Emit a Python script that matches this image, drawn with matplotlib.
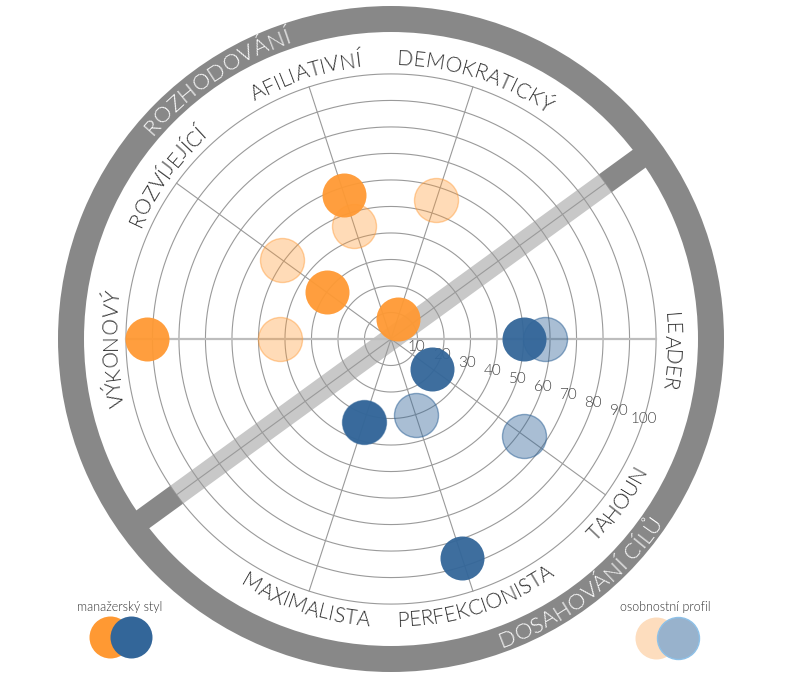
import numpy as np
import matplotlib
matplotlib.use('Agg')
import matplotlib.pyplot as plt
from matplotlib.font_manager import FontProperties, findfont, get_font

FAMILY = ['Lato', 'DejaVu Sans']
WEIGHT = 300

# --- data ---------------------------------------------------------------
categories = ['LEADER', 'DEMOKRATICKÝ', 'AFILIATIVNÍ', 'ROZVÍJEJÍCÍ',
              'VÝKONOVÝ', 'MAXIMALISTA', 'PERFEKCIONISTA', 'TAHOUN']
spoke_idx = [0, 2, 3, 4, 5, 7, 8, 9]          # 10 spokes, 1 and 6 = diagonal
skupina = ['cil', 'roz', 'roz', 'roz', 'roz', 'cil', 'cil', 'cil']
manazersky_styl = [50, 8, 57, 30, 92, 33, 87, 19]
osobnostni_profil = [58, 55, 45, 51, 42, 33, 30, 62]
ring_values = [10, 20, 30, 40, 50, 60, 70, 80, 90, 100]
skupiny = ['ROZHODOVÁNÍ', 'DOSAHOVÁNÍ CÍLŮ']

N_SPOKES = 10
RMAX = 126
ORANGE = '#FF9933'
BLUE = '#336699'
GRID = '#9a9a9a'
RING = '#888888'

fig = plt.figure(figsize=(8, 6.8), dpi=100)

# pixel geometry: center (391, 339), outer radius 334 px
ax = fig.add_axes([57 / 800, 7 / 680, 668 / 800, 668 / 680], projection='polar')
ax.set_ylim(0, RMAX)
ax.axis('off')
PX = 334 / RMAX   # pixels per unit


def deg(a):
    return np.deg2rad(a)


def advance_px(ch, fp):
    font = get_font(findfont(fp))
    font.set_size(fp.get_size_in_points(), 100)
    g = font.load_char(ord(ch))
    return g.linearHoriAdvance / 65536


def curved_text(s, theta_c, r, size, color, top_out=True, tracking=0.0):
    fp = FontProperties(family=FAMILY, weight=WEIGHT, size=size)
    widths = [advance_px(ch, fp) for ch in s]
    total = sum(widths) + tracking * (len(s) - 1)
    r_px = r * PX
    pos = -total / 2
    for ch, w in zip(s, widths):
        mid = pos + w / 2
        dth = np.rad2deg(mid / r_px)
        if top_out:
            th = theta_c - dth
            rot = th - 90
        else:
            th = theta_c + dth
            rot = th + 90
        ax.text(deg(th), r, ch, rotation=rot, rotation_mode='anchor',
                ha='center', va='baseline', fontproperties=fp, color=color,
                zorder=8)
        pos += w + tracking


# --- diagonal band (inner, light) ----------------------------------------
diag = deg(36)
band_w = 22 * 72 / 100
ax.plot([diag, diag + np.pi], [100, 100], color='#c8c8c8', lw=band_w,
        solid_capstyle='butt', zorder=1)

# --- grid ----------------------------------------------------------------
theta = np.linspace(0, 2 * np.pi, 721)
for v in ring_values:
    ax.plot(theta, np.full_like(theta, v), color=GRID, lw=0.8, zorder=2)
for k in range(N_SPOKES):
    a = deg(k * 360 / N_SPOKES)
    if k in (0, 5):
        ax.plot([a, a], [0, 100], color='#bdbdbd', lw=1.6, zorder=2)
    else:
        ax.plot([a, a], [0, 100], color=GRID, lw=0.8, zorder=2)

# radial value labels
fp_tick = FontProperties(family=FAMILY, weight=WEIGHT, size=11)
for v in ring_values:
    ax.text(deg(-17.5), v, str(v), ha='center', va='center',
            fontproperties=fp_tick, color='#444444', zorder=2.5)

# --- points --------------------------------------------------------------
ang = np.array([deg(i * 360 / N_SPOKES) for i in spoke_idx])
is_roz = np.array([g == 'roz' for g in skupina])
man = np.array(manazersky_styl)
oso = np.array(osobnostni_profil)
S = 1004

ax.scatter(ang[is_roz], oso[is_roz], s=S, facecolor=(1, 0.6, 0.2, 0.35),
           edgecolor=(1, 0.6, 0.2, 0.45), lw=1, zorder=3)
ax.scatter(ang[~is_roz], oso[~is_roz], s=S, facecolor=(0.2, 0.4, 0.6, 0.42),
           edgecolor=(0.2, 0.4, 0.6, 0.55), lw=1, zorder=3)
ax.scatter(ang[is_roz], man[is_roz], s=S, color=ORANGE, alpha=0.95, lw=0, zorder=4)
ax.scatter(ang[~is_roz], man[~is_roz], s=S, color=BLUE, alpha=0.95, lw=0, zorder=4)

# --- outer ring and dark part of the band --------------------------------
r_in, r_out = 307 / PX, 333 / PX
for a in (diag, diag + np.pi):
    ax.plot([a, a], [100, r_in + 1], color=RING, lw=band_w,
            solid_capstyle='butt', zorder=5)
ax.bar(0, r_out - r_in, width=2 * np.pi, bottom=r_in, color=RING, lw=0, zorder=5)

# --- category labels -----------------------------------------------------
label_shift = {'LEADER': -2.5, 'VÝKONOVÝ': 2.0}
for name, i in zip(categories, spoke_idx):
    a = i * 360 / N_SPOKES + label_shift.get(name, 0)
    if a <= 180 or name == 'VÝKONOVÝ':
        curved_text(name, a, 274 / PX, 15, '#2b2b2b', top_out=True)
    else:
        curved_text(name, a, 288 / PX, 15, '#2b2b2b', top_out=False)

curved_text(skupiny[0], 124, 313 / PX, 16, 'white', top_out=True, tracking=0.5)
curved_text(skupiny[1], 308, 328 / PX, 16, 'white', top_out=False, tracking=0.5)

# --- legends -------------------------------------------------------------
lg = fig.add_axes([0, 0, 1, 1], zorder=-1)
lg.set_xlim(0, 800)
lg.set_ylim(680, 0)
lg.axis('off')
fp_leg = FontProperties(family=FAMILY, weight=WEIGHT, size=9)
S_LEG = 914
lg.text(120, 607, 'manažerský styl', ha='center', va='center',
        fontproperties=fp_leg, color='#333333')
lg.scatter([110], [637], s=S_LEG, color=ORANGE, lw=0)
lg.scatter([131], [637], s=S_LEG, color=BLUE, lw=0)
lg.text(665, 607, 'osobnostní profil', ha='center', va='center',
        fontproperties=fp_leg, color='#333333')
lg.scatter([656], [638], s=S_LEG, color='#FDDDBE', lw=0)
lg.scatter([678], [638], s=S_LEG, color='#98B2CC', edgecolor='#8EC1E8', lw=1)

fig.savefig('out.png', dpi=100)
